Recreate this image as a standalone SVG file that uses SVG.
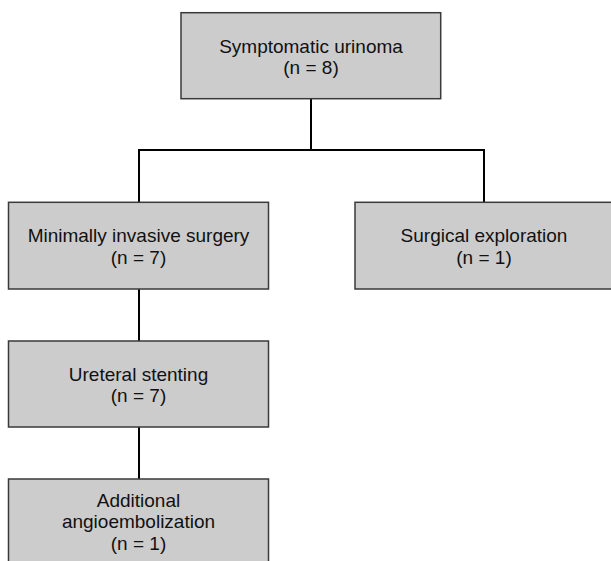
<svg xmlns="http://www.w3.org/2000/svg" width="611" height="561" viewBox="0 0 611 561">
<style>
.box{fill:#cccccc;stroke:#3a3a3a;stroke-width:1.5}
.t{font-family:"Liberation Sans",Arial,sans-serif;font-size:19px;fill:#111;text-anchor:middle}
.c{stroke:#000;stroke-width:2;fill:none}
</style>
<rect width="611" height="561" fill="#fff"/>
<g id="connectors">
<polyline class="c" points="311,98.7 311,150 "/>
<polyline class="c" points="139,202.3 139,150 484,150 484,202.3"/>
<line class="c" x1="139" y1="289" x2="139" y2="341"/>
<line class="c" x1="139" y1="427" x2="139" y2="479"/>
</g>
<g id="n1">
<rect class="box" x="181" y="12.7" width="259.7" height="86"/>
<text class="t" x="311" y="52.7">Symptomatic urinoma</text>
<text class="t" x="311" y="74">(n = 8)</text>
</g>
<g id="n2">
<rect class="box" x="8.5" y="202.3" width="260" height="86.7"/>
<text class="t" x="138.5" y="242.3">Minimally invasive surgery</text>
<text class="t" x="138.5" y="264">(n = 7)</text>
</g>
<g id="n3">
<rect class="box" x="355" y="202.3" width="260" height="86.7"/>
<text class="t" x="484" y="241.7">Surgical exploration</text>
<text class="t" x="484" y="264">(n = 1)</text>
</g>
<g id="n4">
<rect class="box" x="8.5" y="341" width="260" height="86"/>
<text class="t" x="138.5" y="380.7">Ureteral stenting</text>
<text class="t" x="138.5" y="402.3">(n = 7)</text>
</g>
<g id="n5">
<rect class="box" x="8.5" y="479" width="260" height="100"/>
<text class="t" x="138.5" y="506.7">Additional</text>
<text class="t" x="138.5" y="528.3">angioembolization</text>
<text class="t" x="138.5" y="550">(n = 1)</text>
</g>
</svg>
